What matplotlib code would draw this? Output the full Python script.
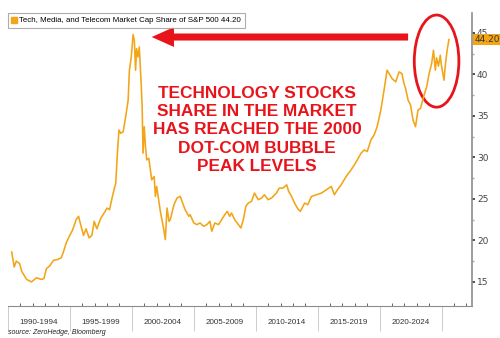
import matplotlib
matplotlib.use("Agg")
import matplotlib.pyplot as plt
from matplotlib.lines import Line2D
from matplotlib.patches import Ellipse, FancyArrow
import matplotlib.transforms as mtransforms
import numpy as np

# TMT share of S&P 500 market cap (%)
years = [1990.3, 1990.5, 1990.67, 1990.94, 1991.1, 1991.5, 1991.9, 1992.3, 1992.7, 1992.9,
         1993.1, 1993.35, 1993.67, 1994.0, 1994.3, 1994.47, 1994.7, 1994.95, 1995.2, 1995.5,
         1995.7, 1995.83, 1996.1, 1996.3, 1996.55, 1996.77, 1996.96, 1997.17, 1997.5, 1997.76,
         1998.0, 1998.2, 1998.4, 1998.56, 1998.7, 1998.83, 1998.96, 1999.1, 1999.3, 1999.5,
         1999.7, 1999.8, 1999.95, 2000.1, 2000.2, 2000.3, 2000.38, 2000.5, 2000.6, 2000.75,
         2000.83, 2000.9, 2001.0, 2001.1, 2001.2, 2001.37, 2001.6, 2001.8, 2001.9, 2002.0,
         2002.3, 2002.58, 2002.7, 2002.84, 2003.0, 2003.1, 2003.4, 2003.64, 2003.9, 2004.2,
         2004.3, 2004.6, 2004.7, 2005.0, 2005.25, 2005.5, 2005.8, 2006.05, 2006.3, 2006.45,
         2006.7, 2007.0, 2007.25, 2007.5, 2007.7, 2007.9, 2008.05, 2008.3, 2008.6, 2008.8,
         2009.0, 2009.2, 2009.4, 2009.66, 2009.9, 2010.2, 2010.47, 2010.7, 2011.0, 2011.27,
         2011.67, 2011.9, 2012.2, 2012.5, 2012.66, 2012.9, 2013.1, 2013.4, 2013.6, 2013.95,
         2014.2, 2014.5, 2014.9, 2015.3, 2015.7, 2016.1, 2016.35, 2016.6, 2016.9, 2017.3,
         2017.7, 2017.96, 2018.2, 2018.5, 2018.76, 2019.0, 2019.3, 2019.56, 2019.8, 2020.1,
         2020.36, 2020.6, 2020.85, 2021.0, 2021.3, 2021.57, 2021.8, 2021.97, 2022.1, 2022.3,
         2022.5, 2022.7, 2022.9, 2023.0, 2023.1, 2023.3, 2023.55, 2023.8, 2024.0, 2024.2,
         2024.35, 2024.5, 2024.6, 2024.75, 2024.9, 2024.97, 2025.2, 2025.3, 2025.45, 2025.6]
share = [18.6, 16.8, 17.5, 17.2, 16.3, 15.3, 15.0, 15.5, 15.3, 15.4,
         16.6, 16.9, 17.6, 17.7, 17.9, 18.6, 19.7, 20.5, 21.2, 22.5,
         22.9, 22.1, 20.6, 21.4, 20.3, 20.6, 22.3, 21.4, 22.7, 23.3,
         23.9, 23.7, 25.1, 26.1, 26.9, 30.5, 33.3, 32.9, 33.1, 34.9,
         36.9, 40.5, 42.1, 44.8, 44.1, 40.5, 43.1, 42.1, 43.3, 38.9,
         36.1, 30.5, 33.7, 31.3, 29.7, 29.9, 27.3, 27.7, 25.3, 26.5,
         23.5, 21.3, 20.1, 23.9, 22.3, 22.5, 24.3, 25.1, 25.3, 24.1,
         23.7, 22.9, 23.1, 22.1, 21.9, 22.1, 21.7, 21.9, 22.3, 21.1,
         22.1, 21.9, 22.5, 23.1, 23.5, 22.9, 23.3, 22.5, 21.9, 21.5,
         22.5, 24.1, 24.5, 24.7, 25.7, 24.9, 25.1, 25.5, 24.9, 25.1,
         25.7, 26.3, 26.3, 26.7, 25.9, 25.3, 24.6, 23.8, 23.5, 24.5,
         24.3, 25.3, 25.5, 25.7, 26.1, 26.5, 25.5, 26.1, 26.7, 27.7,
         28.5, 29.1, 29.7, 30.5, 30.9, 30.7, 32.1, 32.7, 33.7, 35.7,
         38.1, 40.5, 39.9, 39.5, 39.1, 40.3, 40.1, 38.9, 38.3, 36.9,
         36.3, 34.5, 33.7, 34.7, 35.7, 35.9, 37.3, 38.5, 40.1, 41.3,
         42.9, 40.5, 42.0, 41.0, 42.3, 41.3, 39.3, 41.0, 42.9, 44.2]
last_value = 44.20

period_starts = [1990, 1995, 2000, 2005, 2010, 2015, 2020, 2025]
period_labels = ["1990-1994", "1995-1999", "2000-2004", "2005-2009",
                 "2010-2014", "2015-2019", "2020-2024"]
y_ticks = [15, 20, 25, 30, 35, 40, 45]

line_color = "#F2A516"
red = "#E8141B"

fig = plt.figure(figsize=(5, 3.38), dpi=100)
ax = fig.add_axes([0.016, 0.0947, 0.928, 0.867])

ax.plot(years, share, color=line_color, lw=1.15)

ax.set_xlim(1990.24, 2027.46)
ax.set_ylim(12.1, 47.4)

# spines
for s in ["top", "left"]:
    ax.spines[s].set_visible(False)
ax.spines["right"].set_color("#8c8c8c")
ax.spines["bottom"].set_color("#8c8c8c")
ax.spines["right"].set_linewidth(1.2)
ax.spines["bottom"].set_linewidth(0.8)

# right value axis
ax.yaxis.tick_right()
ax.set_yticks(y_ticks)
ax.set_yticks(np.arange(17.5, 47.5, 5), minor=True)
ax.tick_params(axis="y", which="major", direction="out", length=2.5, width=1.2,
               color="#333333", labelsize=6.5, labelcolor="#444444", pad=1)
ax.tick_params(axis="y", which="minor", direction="out", length=1.5, width=1,
               color="#aaaaaa")

# period axis: boundary lines below, yearly ticks above
ax.set_xticks(period_starts)
ax.set_xticklabels([])
ax.set_xticks(np.arange(1991, 2028, 1), minor=True)
ax.tick_params(axis="x", which="major", direction="out", length=18, width=0.7,
               color="#cccccc")
ax.tick_params(axis="x", which="minor", direction="in", length=2, width=0.7,
               color="#666666")
trans = mtransforms.blended_transform_factory(ax.transData, ax.transAxes)
for a, b, lab in zip(period_starts[:-1], period_starts[1:], period_labels):
    ax.text((a + b) / 2, -0.055, lab, transform=trans, ha="center", va="center",
            fontsize=5.8, family="Liberation Sans", color="#333333", clip_on=False)

# legend box
handle = Line2D([], [], ls="none", marker="s", color=line_color, markersize=4)
leg = ax.legend([handle], ["Tech, Media, and Telecom Market Cap Share of S&P 500 44.20"],
                loc="upper left", bbox_to_anchor=(0.016, 0.962),
                bbox_transform=fig.transFigure, prop={"family": "Liberation Sans", "size": 5.7},
                handlelength=0.6, handletextpad=0.3, borderpad=0.5, borderaxespad=0,
                fancybox=False, edgecolor="#999999", shadow=False)
leg.get_frame().set_linewidth(0.8)

# last value tag
ax.annotate(f"{last_value:.2f}", xy=(1.0, last_value),
            xycoords=("axes fraction", "data"), xytext=(2, 0),
            textcoords="offset points", ha="left", va="center", fontsize=6.5,
            color="#333333",
            bbox=dict(boxstyle="square,pad=0.15", fc=line_color, ec="none"))

# annotations
ax.text(2010.1, 33.3, "TECHNOLOGY STOCKS\nSHARE IN THE MARKET\nHAS REACHED THE 2000\nDOT-COM BUBBLE\nPEAK LEVELS",
        ha="center", va="center", color=red, fontsize=12.4, fontweight="bold",
        family="Liberation Sans", linespacing=1.27)

arrow = FancyArrow(2022.3, 44.5, -20.7, 0, width=0.85, head_width=2.4,
                   head_length=1.8, length_includes_head=True,
                   color=red, lw=0, clip_on=False)
ax.add_patch(arrow)
ax.add_patch(Ellipse((2024.6, 41.6), 3.6, 11.1, fill=False, ec=red, lw=2,
                     clip_on=False))

fig.text(0.016, 0.013, "source: ZeroHedge, Bloomberg", fontsize=5, style="italic",
         family="Liberation Sans", color="#222222")

fig.savefig("out.png", dpi=100)
